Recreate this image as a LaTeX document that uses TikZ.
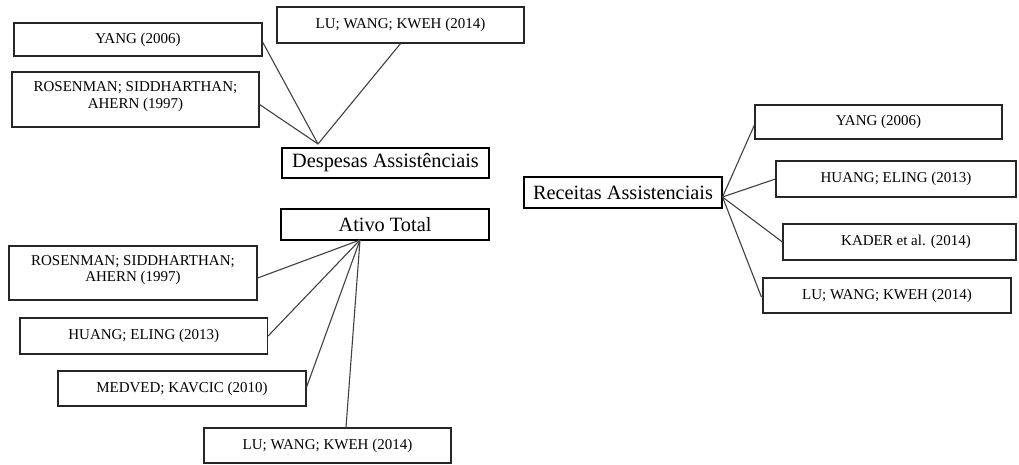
\documentclass[tikz,border=0pt]{standalone}
\usepackage{fontspec}
\setmainfont{Liberation Serif}
\begin{document}
\begin{tikzpicture}[x=1pt,y=1pt,
  refbox/.style={rectangle, draw=black!85, line width=1.2pt, fill=white,
    inner sep=0pt, align=center, font=\fontsize{15}{16.7}\selectfont},
  topic/.style={rectangle, draw=black, line width=2.6pt, fill=white,
    inner sep=0pt, align=center, font=\fontsize{20.3}{22}\selectfont},
  link/.style={draw=black!75, line width=1.1pt}]
\useasboundingbox (0,0) rectangle (1019,-464);

% ---- Despesas Assistenciais ----
\node[topic, minimum width=207, minimum height=30] (desp) at (385.5,-163) {Despesas Assistênciais};
\node[refbox, minimum width=248, minimum height=33] (dYang) at (138,-39.5) {YANG (2006)};
\node[refbox, minimum width=247, minimum height=55,
  label={[font=\fontsize{15}{16.7}\selectfont, align=center, yshift=3]center:ROSENMAN; SIDDHARTHAN;\\AHERN (1997)}]
  (dRos) at (135.5,-99.5) {};
\node[refbox, minimum width=247, minimum height=36] (dLu) at (400.5,-25) {LU; WANG; KWEH (2014)};
\coordinate (dHub) at (318,-144);
\draw[link] ([yshift=-2.5]dYang.east) -- (dHub);
\draw[link] ([yshift=-5]dRos.east) -- (dHub);
\draw[link] (dLu.south) -- (dHub);

% ---- Ativo Total ----
\node[topic, minimum width=208, minimum height=31] (ativo) at (385,-224.5) {Ativo Total};
\node[refbox, minimum width=248, minimum height=54,
  label={[font=\fontsize{15}{16.7}\selectfont, align=center, yshift=3]center:ROSENMAN; SIDDHARTHAN;\\AHERN (1997)}]
  (aRos) at (133,-273) {};
\node[refbox, minimum width=247.5, minimum height=36] (aHuang) at (143.75,-336) {HUANG; ELING (2013)};
\node[refbox, minimum width=248, minimum height=35] (aMed) at (182,-388.5) {MEDVED; KAVCIC (2010)};
\node[refbox, minimum width=247, minimum height=35] (aLu) at (327.5,-445.5) {LU; WANG; KWEH (2014)};
\coordinate (aHub) at (360,-240);
\draw[link] (aHub) -- ([yshift=-5]aRos.east);
\draw[link] (aHub) -- (aHuang.east);
\draw[link] (aHub) -- ([yshift=1.5]aMed.east);
\draw[link] (aHub) -- ([xshift=18.5]aLu.north);

% ---- Receitas Assistenciais ----
\node[topic, minimum width=198, minimum height=31] (rec) at (623,-192.5) {Receitas Assistenciais};
\node[refbox, minimum width=247, minimum height=34] (rYang) at (878.5,-122) {YANG (2006)};
\node[refbox, minimum width=240, minimum height=36] (rHuang) at (896,-179) {HUANG; ELING (2013)};
\node[refbox, minimum width=233, minimum height=36,
  label={[font=\fontsize{15}{16.7}\selectfont, xshift=6.5]center:KADER et al. (2014)}]
  (rKader) at (899.5,-242) {};
\node[refbox, minimum width=248, minimum height=35] (rLu) at (887,-295.5) {LU; WANG; KWEH (2014)};
\coordinate (rHub) at (722.5,-197);
\draw[link] (rHub) -- ([yshift=-3]rYang.west);
\draw[link] (rHub) -- (rHuang.west);
\draw[link] (rHub) -- (rKader.west);
\draw[link] (rHub) -- ([xshift=-1,yshift=-1.5]rLu.west);
\end{tikzpicture}
\end{document}
